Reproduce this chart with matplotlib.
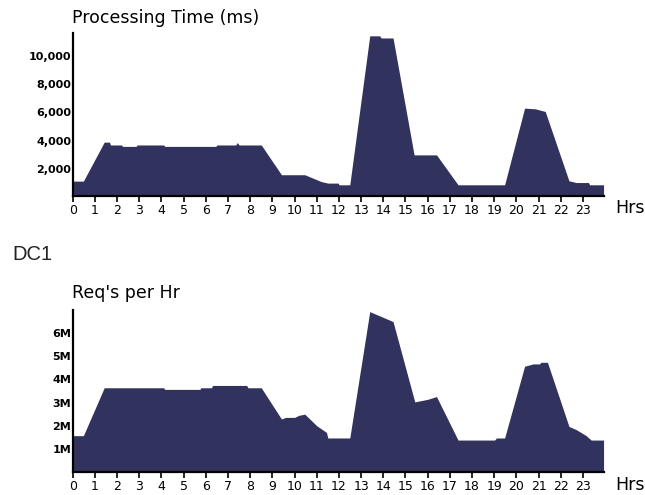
import matplotlib
matplotlib.use('Agg')
import matplotlib.pyplot as plt

# ── data (hour breakpoints, values) ────────────────────────────────
hrs_time = [0, 0.48, 1.42, 1.66, 1.7, 2.2, 2.25, 2.86, 2.9, 4.1, 4.15, 6.45, 6.5,
            7.35, 7.42, 7.5, 8.5, 9.41, 10.46, 11.2, 11.5, 11.97, 12.0, 12.49,
            13.39, 13.84, 13.9, 14.44, 15.39, 16.4, 17.37, 19.47, 20.37, 20.85,
            21.3, 22.37, 22.7, 23.25, 23.3, 23.93]
proc_time = [1150, 1150, 3900, 3900, 3700, 3700, 3600, 3600, 3700, 3700, 3600, 3600, 3700,
             3700, 3870, 3700, 3700, 1600, 1600, 1120, 1010, 1010, 890, 890,
             11400, 11400, 11250, 11250, 3000, 3000, 890, 890, 6300, 6250,
             6065, 1170, 1050, 1050, 890, 890]

hrs_req = [0, 0.48, 1.42, 4.1, 4.15, 5.73, 5.78, 6.26, 6.3, 7.84, 7.9, 8.5, 9.41,
           9.6, 10.0, 10.2, 10.46, 11.0, 11.44, 11.5, 12.49, 13.39, 14.44, 15.42,
           16.0, 16.4, 17.37, 19.02, 19.1, 19.47, 20.37, 20.75, 21.05, 21.1, 21.4,
           22.37, 22.7, 23.15, 23.37, 23.93]
reqs = [1.57, 1.57, 3.64, 3.64, 3.57, 3.57, 3.64, 3.64, 3.74, 3.74, 3.64, 3.64, 2.29,
        2.36, 2.36, 2.45, 2.5, 2.0, 1.71, 1.47, 1.47, 6.93, 6.5, 3.03,
        3.14, 3.26, 1.38, 1.38, 1.47, 1.47, 4.57, 4.67, 4.67, 4.74, 4.74,
        1.97, 1.83, 1.57, 1.38, 1.38]
reqs = [v * 1e6 for v in reqs]

hour_ticks = list(range(24))
time_ticks = [2000, 4000, 6000, 8000, 10000]
time_labels = ['2,000', '4,000', '6,000', '8,000', '10,000']
req_ticks = [1e6, 2e6, 3e6, 4e6, 5e6, 6e6]
req_labels = ['1M', '2M', '3M', '4M', '5M', '6M']

fill_color = '#32325f'
W, H = 645, 495

fig = plt.figure(figsize=(W / 100, H / 100), dpi=100)


def style_axes(ax, yticks, ylabels):
    for s in ['top', 'right']:
        ax.spines[s].set_visible(False)
    for s in ['left', 'bottom']:
        ax.spines[s].set_linewidth(1.6)
        ax.spines[s].set_color('black')
    ax.set_xlim(0, 23.95)
    ax.set_xticks(hour_ticks)
    ax.set_xticklabels([str(h) for h in hour_ticks])
    ax.tick_params(axis='x', length=4, width=1.2, pad=1.5, labelsize=9)
    ax.set_yticks(yticks)
    ax.set_yticklabels(ylabels, fontweight='bold')
    ax.tick_params(axis='y', length=0, pad=1, labelsize=8)


# ── Processing Time ──
ax1 = fig.add_axes([72.7 / W, 1 - 196 / H, (604 - 72.7) / W, (196 - 33) / H])
ax1.fill_between(hrs_time, 0, proc_time, color=fill_color, linewidth=0)
ax1.set_ylim(100, 11600)
style_axes(ax1, time_ticks, time_labels)

# ── Req's per Hr ──
ax2 = fig.add_axes([72.7 / W, 1 - 472 / H, (604 - 72.7) / W, (472 - 310) / H])
ax2.fill_between(hrs_req, 0, reqs, color=fill_color, linewidth=0)
ax2.set_ylim(0, 7.0e6)
style_axes(ax2, req_ticks, req_labels)

fig.text(72 / W, 1 - 18 / H, 'Processing Time (ms)', fontsize=12.5, va='center', ha='left')
fig.text(615 / W, 1 - 208 / H, 'Hrs', fontsize=12.5, va='center', ha='left')
fig.text(12 / W, 1 - 255 / H, 'DC1', fontsize=14.5, va='center', ha='left',
         family='Liberation Sans', color='#222222')
fig.text(72 / W, 1 - 293 / H, "Req's per Hr", fontsize=12.5, va='center', ha='left')
fig.text(615 / W, 1 - 485 / H, 'Hrs', fontsize=12.5, va='center', ha='left')

fig.savefig('out.png', dpi=100)
